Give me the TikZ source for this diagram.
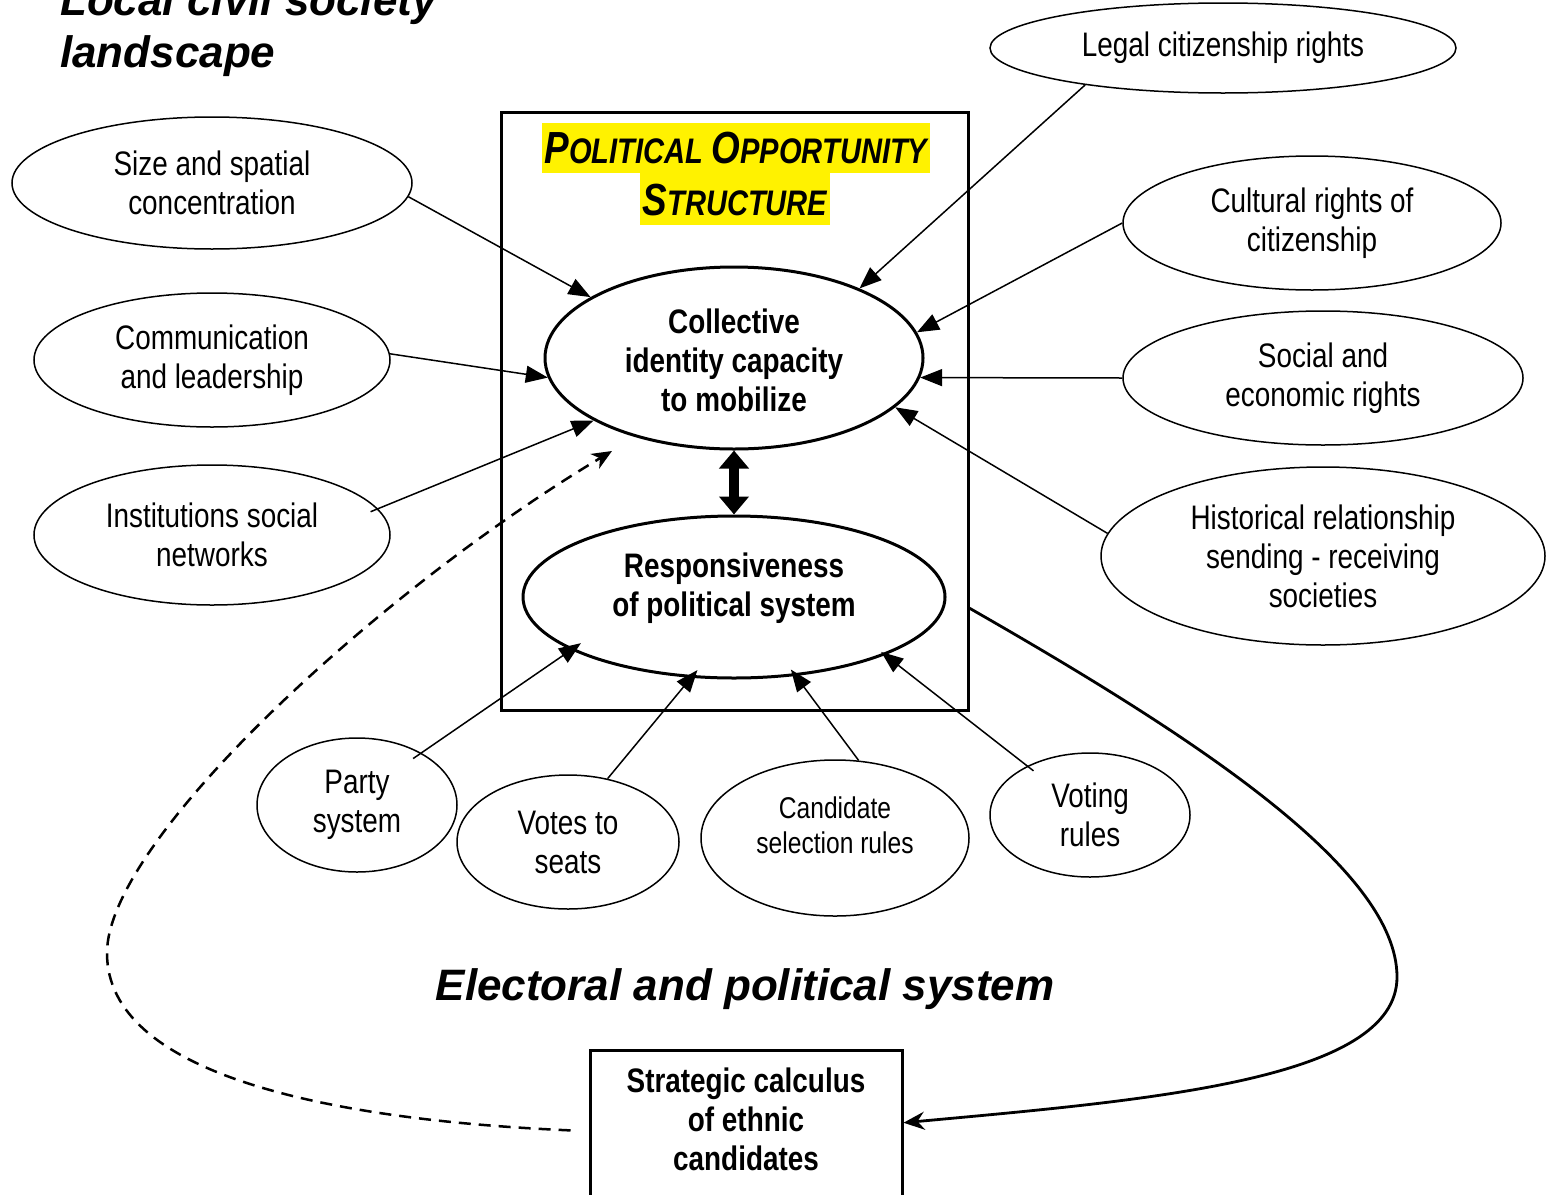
\documentclass[tikz,border=0pt]{standalone}
\usepackage{fontspec}
\setmainfont{Liberation Sans}
\newfontfamily\nf[FakeStretch=0.82]{Liberation Sans}
\usetikzlibrary{shapes.geometric,arrows.meta}
\newcommand\posc[2]{{\fontsize{45}{52}\selectfont #1}#2}
\begin{document}
\begin{tikzpicture}[x=1pt,y=-1pt,
  txt/.style={font=\nf\fontsize{34}{39}\selectfont, align=center},
  smtxt/.style={font=\nf\fontsize{30}{35}\selectfont, align=center},
  btxt/.style={font=\nf\bfseries\fontsize{34}{39}\selectfont, align=center},
  ell/.style={ellipse, draw, line width=1.5pt, inner sep=0pt, txt},
  bigell/.style={ellipse, draw, line width=3pt, inner sep=0pt, btxt},
  bigtitle/.style={font=\bfseries\itshape\fontsize{44}{52}\selectfont, inner sep=0pt},
  postitle/.style={anchor=base, fill=yellow, inner xsep=3pt, inner ysep=0pt, text depth=10pt,
    font=\nf\bfseries\itshape\fontsize{35.5}{42}\selectfont},
  arr/.style={line width=1.5pt, -{Triangle[length=22pt,width=17pt]}},
]
\useasboundingbox (0,0) rectangle (1554,1194);

% titles
\node[bigtitle, align=left, anchor=north west] (local) at (60,-17) {Local civil society\\landscape};
\node[bigtitle, anchor=base] (elect) at (745,1000) {Electoral and political system};

% political opportunity structure box
\node[draw, line width=3pt, minimum width=467pt, minimum height=598pt, inner sep=0pt] (posbox) at (734.5,411) {};
\node[postitle, text height=40pt] (pos1) at (736,163) {\posc{P}{OLITICAL} \posc{O}{PPORTUNITY}};
\node[postitle, text height=42pt] (pos2) at (735,215) {\posc{S}{TRUCTURE}};

% central ellipses
\node[bigell, minimum width=378pt, minimum height=182pt,
  label={[btxt, yshift=-2pt]center:Collective\\identity capacity\\to mobilize}] (coll) at (734,358) {};
\node[bigell, minimum width=422pt, minimum height=162pt,
  label={[btxt, yshift=9pt]center:Responsiveness\\of political system}] (resp) at (734,597) {};

% left ellipses
\node[ell, minimum width=400pt, minimum height=132pt] (size) at (212,183) {Size and spatial\\concentration};
\node[ell, minimum width=356pt, minimum height=134pt] (comm) at (212,360) {Communication\\and leadership};
\node[ell, minimum width=356pt, minimum height=140pt] (inst) at (212,535) {Institutions social\\networks};

% right ellipses
\node[ell, minimum width=466pt, minimum height=90pt] (legal) at (1223,48) {Legal citizenship rights};
\node[ell, minimum width=378pt, minimum height=134pt] (cult) at (1312,223) {Cultural rights of\\citizenship};
\node[ell, minimum width=400pt, minimum height=134pt] (soc) at (1323,378) {Social and\\economic rights};
\node[ell, minimum width=444pt, minimum height=178pt] (hist) at (1323,556) {Historical relationship\\sending - receiving\\societies};

% bottom ellipses
\node[ell, minimum width=200pt, minimum height=134pt] (party) at (357,805) {Party\\system};
\node[ell, minimum width=222pt, minimum height=134pt] (votes) at (568,842) {Votes to\\seats};
\node[ell, minimum width=268pt, minimum height=156pt,
  label={[smtxt, yshift=13pt]center:Candidate\\selection rules}] (cand) at (835,838) {};
\node[ell, minimum width=200pt, minimum height=124pt] (voting) at (1090,815) {Voting\\rules};

% strategic calculus box
\node[draw, line width=3pt, minimum width=312pt, minimum height=200pt, anchor=north, inner sep=0pt] (strat) at (746,1049) {};
\node[btxt] (strattext) at (746,1119) {Strategic calculus\\of ethnic\\candidates};

\coordinate (dashend) at (612,451);

% arrows into collective identity
\draw[arr] (size.-4) -- (coll.157.7);
\draw[arr] (comm.2) -- (coll.186);
\draw[arr, shorten <=-8pt] (inst.9.5) -- (coll.204.3);
\draw[arr] (legal.195) -- (coll.29);
\draw[arr] (cult.180) -- (coll.8.4);
\draw[arr] (soc.180) -- (coll.-6.3);
\draw[arr] (hist.174) -- (coll.-17.8);

% arrows into responsiveness
\draw[arr, shorten <=-10pt, shorten >=-12pt] (party.39) -- (resp.198.9);
\draw[arr, shorten >=-10pt] (votes.58.5) -- (resp.242);
\draw[arr, shorten >=-8pt] (cand.73.9) -- (resp.308.8);
\draw[arr, shorten <=-8pt, shorten >=-5pt] (voting.142) -- (resp.339.1);

% double arrow
\draw[line width=10pt, {Triangle[length=18pt,width=29pt]}-{Triangle[length=18pt,width=29pt]}] (coll.south) -- (resp.north);

% dashed feedback
\draw[line width=2.5pt, dash pattern=on 12pt off 8pt, -{Stealth[length=20pt,width=17pt,inset=6pt]}, shorten <=18pt]
  (strat.173.4) .. controls (330,1120) and (107,1075) .. (107,953)
  .. controls (107,840) and (380,590) .. (dashend);

% solid curve to strategic calculus
\draw[line width=2.8pt, -{Stealth[length=21pt,width=18pt,inset=7pt]}]
  (posbox.-40) .. controls (1200,740) and (1397,870) .. (1397,977)
  .. controls (1397,1080) and (1150,1100) .. (strat.10.2);
\end{tikzpicture}
\end{document}
